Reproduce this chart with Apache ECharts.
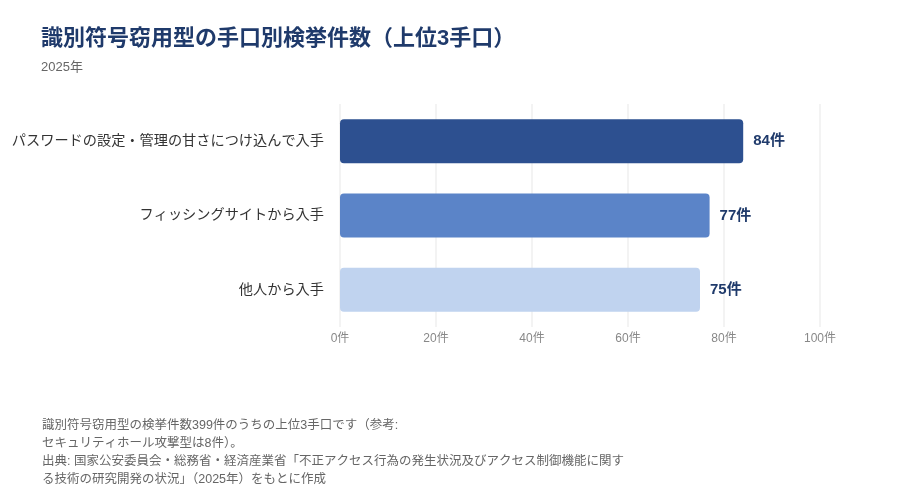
<!DOCTYPE html>
<html>
<head>
    <meta charset="utf-8">
    <title>識別符号窃用型の手口別検挙件数</title>
    <script src="https://cdn.jsdelivr.net/npm/echarts@6/dist/echarts.min.js"></script>
    <style>
        body, html { margin: 0; padding: 0; width: 100%; height: 100%; overflow: hidden; background: #fff; }
        #main { width: 900px; height: 500px; }
    </style>
</head>
<body>
    <div id="main"></div>
    <script type="text/javascript">
        // data (top to bottom)
        var categories = ['パスワードの設定・管理の甘さにつけ込んで入手', 'フィッシングサイトから入手', '他人から入手'];
        var counts = [84, 77, 75];
        var barColors = ['#2d5090', '#5b84c8', '#c0d3ef'];
        var xTicks = [0, 20, 40, 60, 80, 100];

        var noteLines = [
            '識別符号窃用型の検挙件数399件のうちの上位3手口です（参考:',
            'セキュリティホール攻撃型は8件）。',
            '出典: 国家公安委員会・総務省・経済産業省「不正アクセス行為の発生状況及びアクセス制御機能に関す',
            'る技術の研究開発の状況」（2025年）をもとに作成'
        ];

        var font = '"Liberation Sans", "Noto Sans CJK JP", sans-serif';
        var myChart = echarts.init(document.getElementById('main'));

        var option = {
            backgroundColor: '#fff',
            textStyle: { fontFamily: font },
            title: [{
                text: '識別符号窃用型の手口別検挙件数（上位3手口）',
                subtext: '2025年',
                left: 36,
                top: 23,
                itemGap: 11,
                textStyle: { fontSize: 22, fontWeight: 'bold', color: '#1f3a6b', fontFamily: font },
                subtextStyle: { fontSize: 13, color: '#666', fontFamily: font }
            }, {
                text: noteLines.join('\n'),
                left: 37,
                top: 412,
                textStyle: { fontSize: 12.5, fontWeight: 'normal', color: '#666', lineHeight: 18, fontFamily: font }
            }],
            grid: { left: 340, right: 80, top: 104, bottom: 173, containLabel: false },
            xAxis: {
                type: 'value',
                min: xTicks[0],
                max: xTicks[xTicks.length - 1],
                interval: 20,
                axisLine: { show: false },
                axisTick: { show: false },
                splitLine: { lineStyle: { color: '#f3f3f3', width: 2 } },
                axisLabel: { color: '#888', fontSize: 12, margin: 6, formatter: '{value}件' }
            },
            yAxis: {
                type: 'category',
                inverse: true,
                data: categories,
                axisLine: { show: false },
                axisTick: { show: false },
                axisLabel: { color: '#333', fontSize: 14.2, margin: 16 }
            },
            series: [{
                type: 'bar',
                barWidth: 44,
                data: counts.map(function (v, i) {
                    return { value: v, itemStyle: { color: barColors[i], borderRadius: 4 } };
                }),
                label: {
                    show: true,
                    position: 'right',
                    distance: 10,
                    formatter: '{c}件',
                    fontSize: 15,
                    fontWeight: 'bold',
                    color: '#1f3a6b'
                }
            }]
        };
        myChart.setOption(option);
    </script>
</body>
</html>
